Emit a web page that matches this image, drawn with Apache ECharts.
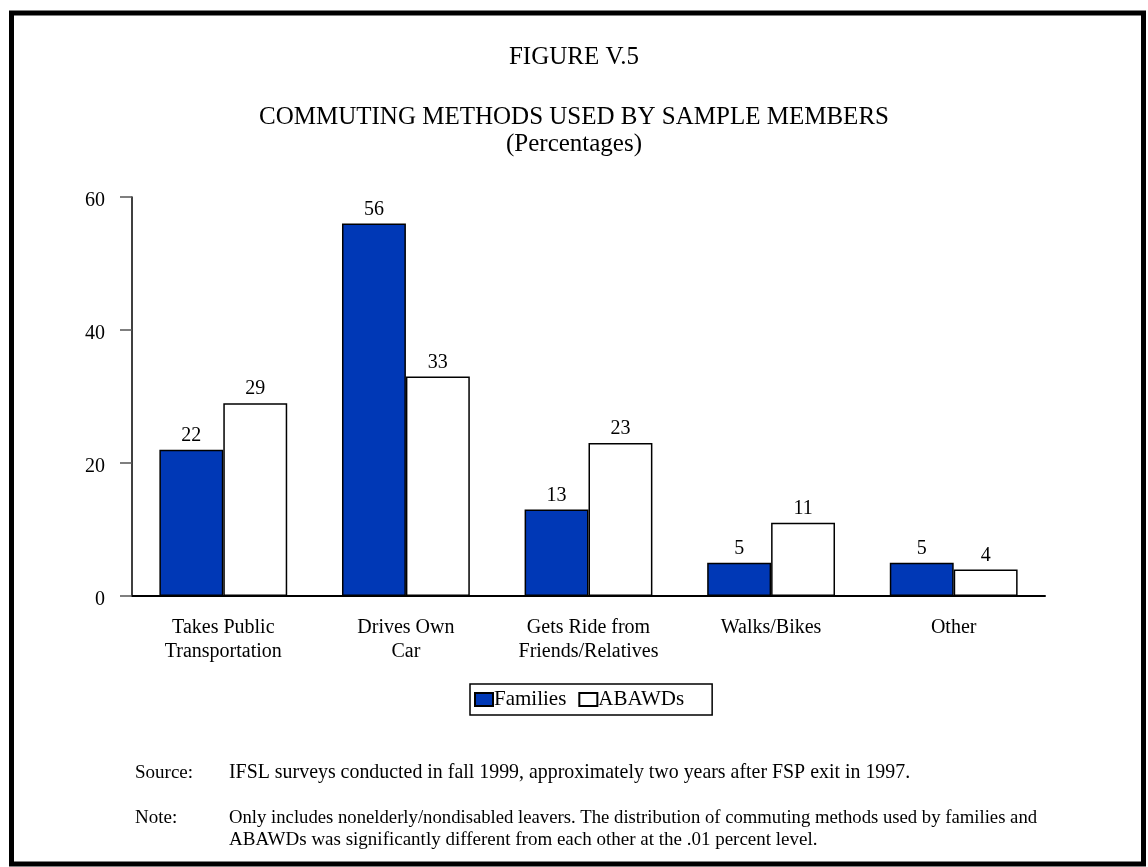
<!DOCTYPE html>
<html>
<head>
<meta charset="utf-8">
<script src="https://cdn.jsdelivr.net/npm/echarts@6/dist/echarts.min.js"></script>
<style>
  html, body { margin: 0; padding: 0; background: #fff; }
  #chart { width: 1148px; height: 867px; }
</style>
</head>
<body>
<div id="chart"></div>
<script>
// Commuting methods, in percent
const categories = [
  'Takes Public\nTransportation',
  'Drives Own\nCar',
  'Gets Ride from\nFriends/Relatives',
  'Walks/Bikes',
  'Other'
];
const families = [22, 56, 13, 5, 5];
const abawds = [29, 33, 23, 11, 4];
const seriesNames = ['Families', 'ABAWDs'];
const yTicks = { min: 0, max: 60, interval: 20 };

const serif = '"Liberation Serif", "Times New Roman", serif';
const ink = '#000';

const chart = echarts.init(document.getElementById('chart'), null, { renderer: 'canvas' });

const barLabel = {
  show: true,
  position: 'top',
  distance: 4,
  color: ink,
  fontFamily: serif,
  fontSize: 20
};

chart.setOption({
  backgroundColor: '#fff',
  animation: false,
  title: [
    { text: 'FIGURE V.5', left: 'center', top: 40,
      textStyle: { fontFamily: serif, fontSize: 25, fontWeight: 'normal', color: ink } },
    { text: 'COMMUTING METHODS USED BY SAMPLE MEMBERS', left: 'center', top: 100,
      textStyle: { fontFamily: serif, fontSize: 25, fontWeight: 'normal', color: ink } },
    { text: '(Percentages)', left: 'center', top: 127,
      textStyle: { fontFamily: serif, fontSize: 25, fontWeight: 'normal', color: ink } }
  ],
  legend: {
    data: seriesNames,
    left: 470,
    top: 684,
    orient: 'horizontal',
    icon: 'rect',
    itemWidth: 18,
    itemHeight: 13,
    itemGap: 12,
    padding: [5, 28, 5, 4],
    borderColor: ink,
    borderWidth: 1.5,
    textStyle: { fontFamily: serif, fontSize: 21, color: ink, padding: [0, 0, 0, -4] }
  },
  grid: { left: 132, right: 103, top: 197, bottom: 271, containLabel: false },
  xAxis: {
    type: 'category',
    data: categories,
    axisLine: { lineStyle: { color: ink, width: 2 } },
    axisTick: { show: false },
    axisLabel: {
      margin: 20,
      color: ink,
      fontFamily: serif,
      fontSize: 20,
      lineHeight: 24,
      interval: 0
    },
    splitLine: { show: false }
  },
  yAxis: {
    type: 'value',
    min: yTicks.min,
    max: yTicks.max,
    interval: yTicks.interval,
    axisLine: { show: true, lineStyle: { color: ink, width: 1.5 } },
    axisTick: { show: true, length: 12, lineStyle: { color: '#555', width: 1.5 } },
    axisLabel: {
      margin: 27,
      formatter: '{t|{value}}',
      rich: { t: { color: ink, fontFamily: serif, fontSize: 20, padding: [7, 0, 0, 0] } }
    },
    splitLine: { show: false }
  },
  series: [
    {
      name: seriesNames[0],
      type: 'bar',
      data: families,
      barGap: '0%',
      barCategoryGap: '30%',
      itemStyle: { color: '#0038b6', borderColor: ink, borderWidth: 1.5 },
      label: barLabel
    },
    {
      name: seriesNames[1],
      type: 'bar',
      data: abawds,
      itemStyle: { color: '#fff', borderColor: ink, borderWidth: 1.5 },
      label: barLabel
    }
  ],
  graphic: [
    {
      type: 'rect',
      shape: { x: 11.5, y: 13, width: 1132, height: 851 },
      style: { fill: null, stroke: ink, lineWidth: 5 },
      silent: true
    },
    {
      type: 'text', left: 135, top: 764,
      style: { text: 'Source:', font: '19px ' + serif, fill: ink }
    },
    {
      type: 'text', left: 229, top: 763,
      style: { text: 'IFSL surveys conducted in fall 1999, approximately two years after FSP exit in 1997.', font: '19.9px ' + serif, fill: ink }
    },
    {
      type: 'text', left: 135, top: 809,
      style: { text: 'Note:', font: '19px ' + serif, fill: ink }
    },
    {
      type: 'text', left: 229, top: 809,
      style: {
        text: 'Only includes nonelderly/nondisabled leavers. The distribution of commuting methods used by families and',
        font: '18.7px ' + serif, fill: ink
      }
    },
    {
      type: 'text', left: 229, top: 831,
      style: {
        text: 'ABAWDs was significantly different from each other at the .01 percent level.',
        font: '19px ' + serif, fill: ink
      }
    }
  ]
});
</script>
</body>
</html>
